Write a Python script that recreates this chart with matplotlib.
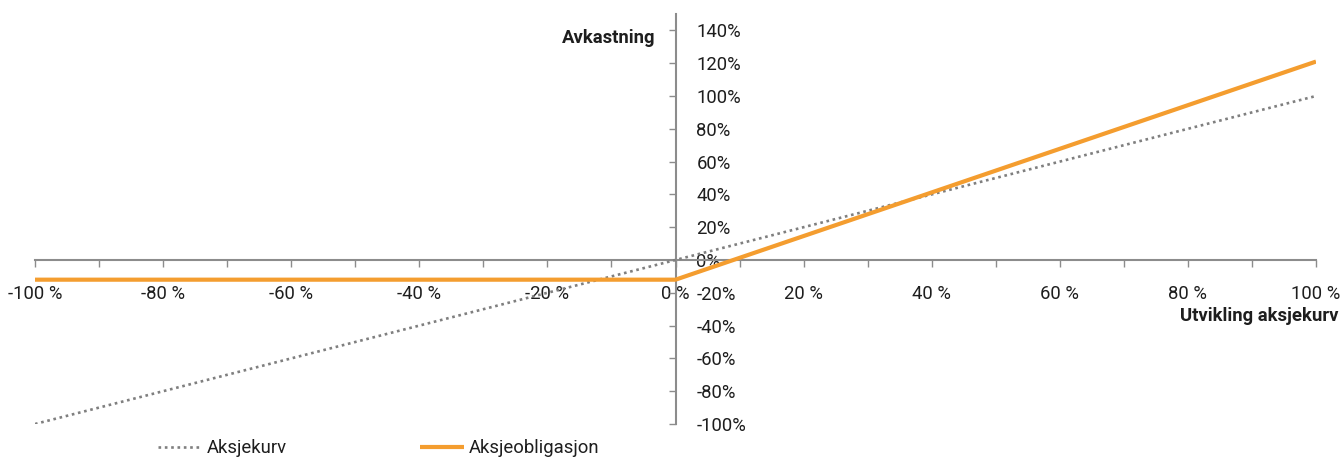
"""Aksjeobligasjon vs aksjekurv: avkastningsprofil."""
import matplotlib
matplotlib.use("Agg")
import matplotlib.pyplot as plt
import matplotlib.ticker as mticker

plt.rcParams["font.family"] = ["Roboto", "DejaVu Sans"]

# Data (prosent)
STOCK_X = [-100, -50, 0, 50, 100]
STOCK_Y = [-100, -50, 0, 50, 100]
BOND_X = [-100, -50, 0, 50, 100]
BOND_Y = [-12, -12, -12, 54.5, 121]

X_TICKS = [-100, -80, -60, -40, -20, 0, 20, 40, 60, 80, 100]
Y_TICKS = [-100, -80, -60, -40, -20, 0, 20, 40, 60, 80, 100, 120, 140]

SERIES_LABELS = ["Aksjekurv", "Aksjeobligasjon"]

AXIS_GRAY = "#8c8c8c"
DOT_GRAY = "#7f7f7f"
ORANGE = "#f49d2f"
INK = "#1e1e1e"

fig = plt.figure(figsize=(13.42, 4.58), dpi=100)
ax = fig.add_axes([35 / 1342, 34 / 458, (1316 - 35) / 1342, (444 - 34) / 458])

ax.plot(STOCK_X, STOCK_Y, color=DOT_GRAY, linewidth=1.9,
        linestyle=(0, (1, 1.4)), label=SERIES_LABELS[0], zorder=3)
ax.plot(BOND_X, BOND_Y, color=ORANGE, linewidth=3, solid_capstyle="butt",
        label=SERIES_LABELS[1], zorder=4)

ax.set_xlim(-100, 100)
ax.set_ylim(-100, 150)

for side in ("left", "right"):
    ax.spines[side].set_position(("data", 0))
ax.spines["bottom"].set_position(("data", 0))
ax.spines["top"].set_visible(False)
ax.spines["right"].set_visible(False)
for side in ("left", "bottom"):
    ax.spines[side].set_color(AXIS_GRAY)
    ax.spines[side].set_linewidth(1.5)

ax.set_xticks(X_TICKS)
ax.xaxis.set_minor_locator(mticker.MultipleLocator(10))
ax.xaxis.set_major_formatter(mticker.FuncFormatter(lambda v, _: f"{v:.0f} %"))
ax.set_yticks(Y_TICKS)
ax.yaxis.set_major_formatter(mticker.FuncFormatter(lambda v, _: f"{v:.0f}%"))

ax.tick_params(axis="x", which="both", direction="out", color=AXIS_GRAY,
               width=1, labelsize=13.3, labelcolor=INK)
ax.tick_params(axis="x", which="major", length=5, pad=13)
ax.tick_params(axis="x", which="minor", length=5)
ax.tick_params(axis="y", direction="out", length=5, color=AXIS_GRAY, width=1,
               left=True, right=False, labelleft=False, labelright=True,
               labelsize=13.3, labelcolor=INK, pad=10)
for lbl in ax.get_yticklabels():
    lbl.set_horizontalalignment("left")

fig.text(655 / 1342, 1 - 38 / 458, "Avkastning", ha="right", va="center",
         fontsize=13.3, fontweight="bold", color=INK)
fig.text(1180 / 1342, 1 - 316 / 458, "Utvikling aksjekurv", ha="left", va="center",
         fontsize=13.3, fontweight="bold", color=INK)

fig.legend(loc="center left", bbox_to_anchor=(158 / 1342, 10 / 458), ncol=2,
           frameon=False, fontsize=13.3, handlelength=2.4, handletextpad=0.25,
           columnspacing=7.2, borderaxespad=0, borderpad=0, labelcolor=INK)

fig.savefig("out.png", dpi=100, facecolor="white")
